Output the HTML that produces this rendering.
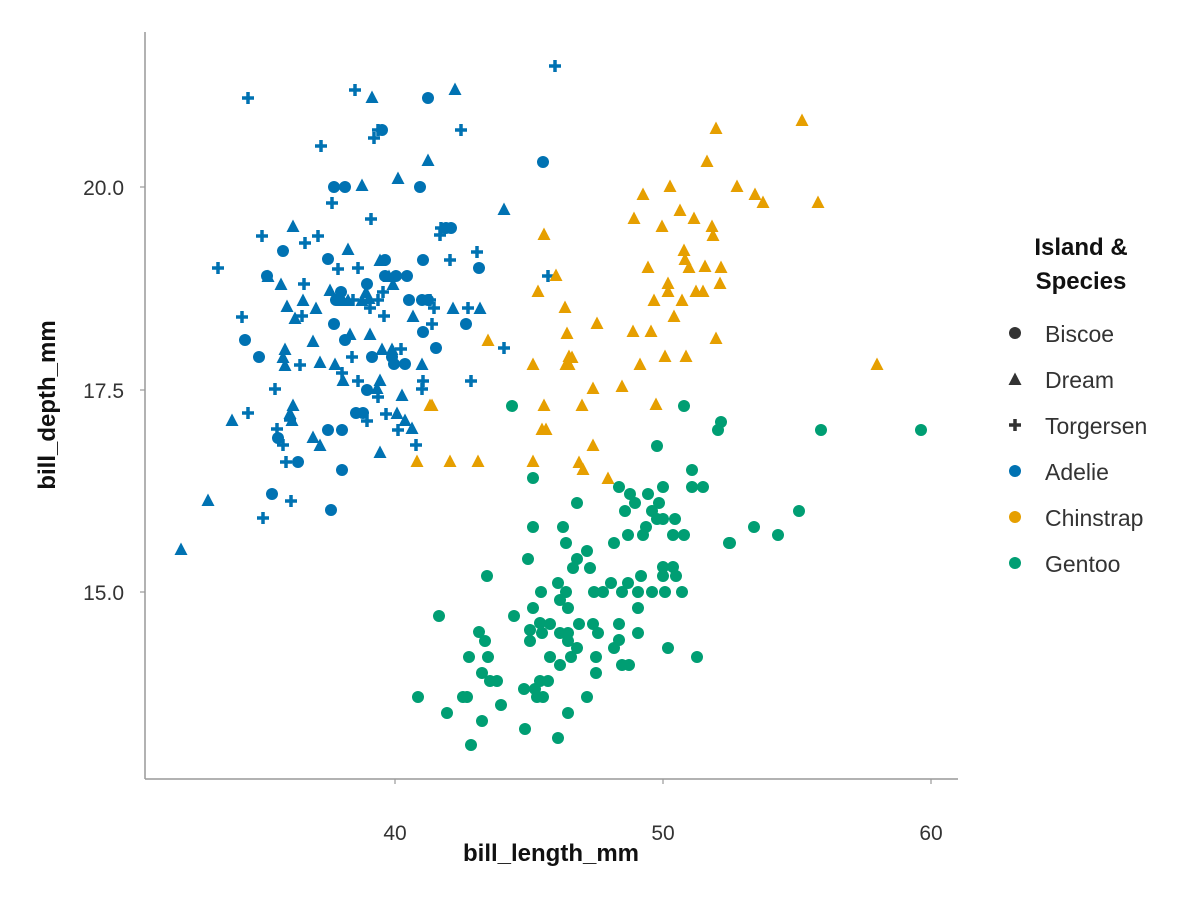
<!DOCTYPE html>
<html><head><meta charset="utf-8"><style>
html,body{margin:0;padding:0;background:#fff;}
svg{display:block;font-family:"Liberation Sans",sans-serif;}
</style></head><body>
<svg id="s" width="1200" height="900" xmlns="http://www.w3.org/2000/svg">
<rect width="1200" height="900" fill="#fff"/>
<line x1="145" y1="32" x2="145" y2="779" stroke="#999" stroke-width="1.5"/>
<line x1="145" y1="779" x2="958" y2="779" stroke="#999" stroke-width="1.5"/>
<g stroke="#999" stroke-width="1.2">
<line x1="395" y1="779" x2="395" y2="784"/><line x1="663" y1="779" x2="663" y2="784"/><line x1="931" y1="779" x2="931" y2="784"/>
<line x1="140" y1="187" x2="145" y2="187"/><line x1="140" y1="390" x2="145" y2="390"/><line x1="140" y1="592" x2="145" y2="592"/>
</g>
<g font-size="21" fill="#333">
<text x="395" y="840" text-anchor="middle">40</text>
<text x="663" y="840" text-anchor="middle">50</text>
<text x="931" y="840" text-anchor="middle">60</text>
<text x="124" y="195" text-anchor="end">20.0</text>
<text x="124" y="398" text-anchor="end">17.5</text>
<text x="124" y="600" text-anchor="end">15.0</text>
</g>
<text x="551" y="861" text-anchor="middle" font-size="24" font-weight="bold" fill="#111">bill_length_mm</text>
<text transform="translate(55,405) rotate(-90)" text-anchor="middle" font-size="24" font-weight="bold" fill="#111">bill_depth_mm</text>
<text x="1081" y="255" text-anchor="middle" font-size="24" font-weight="bold" fill="#111">Island &amp;</text>
<text x="1081" y="289" text-anchor="middle" font-size="24" font-weight="bold" fill="#111">Species</text>
<g font-size="23" fill="#333">
<text x="1045" y="342">Biscoe</text><text x="1045" y="388">Dream</text><text x="1045" y="434">Torgersen</text>
<text x="1045" y="480">Adelie</text><text x="1045" y="526">Chinstrap</text><text x="1045" y="572">Gentoo</text>
</g>
<g id="pts"></g>
</svg>
<script>
var g=document.getElementById('pts'),NS="http://www.w3.org/2000/svg";
function el(t,a){var e=document.createElementNS(NS,t);for(var k in a)e.setAttribute(k,a[k]);g.appendChild(e);}
function C(x,y,c){el('circle',{cx:x,cy:y,r:6,fill:c});}
function T(x,y,c){el('polygon',{points:(x-6.5)+','+(y+6)+' '+(x+6.5)+','+(y+6)+' '+x+','+(y-6.5),fill:c});}
function P(x,y,c){el('path',{d:'M'+(x-6)+' '+y+'H'+(x+6)+'M'+x+' '+(y-6)+'V'+(y+6),stroke:c,'stroke-width':3.5,fill:'none'});}
function run(f,arr,c){for(var i=0;i<arr.length;i+=2)f(arr[i],arr[i+1],c);}
var B='#0072b2',O='#e69f00',G='#009e73';
run(C,[428,98,382,130,543,162,334,187,345,187,420,187,446,228,451,228,283,251,267,276,328,259,385,276,396,276,407,276,423,260,479,268,367,284,336,300,338,300,409,300,341,292,245,340,259,357,334,324,345,340,466,324,436,348,392,357,372,357,394,364,405,364,367,390,356,413,363,413,342,430,328,430,278,438,298,462,342,470,272,494,331,510,385,260,428,300,423,332,422,300],B);
run(T,[372,97,455,89,428,160,398,178,362,185,504,209,293,226,348,249,268,276,281,284,330,290,389,276,343,300,366,292,348,300,369,298,303,300,393,284,453,308,480,308,287,306,295,318,316,308,285,349,313,341,283,357,285,365,320,362,350,334,370,334,382,349,392,349,413,316,380,380,343,380,402,395,412,428,405,420,397,413,293,405,290,413,292,420,232,420,313,437,320,445,380,452,208,500,181,549,380,260,362,300,422,364,377,388,335,364],B);
run(P,[555,66,248,98,355,90,378,130,374,138,461,130,321,146,332,203,371,219,262,236,305,243,318,236,218,268,338,269,358,268,450,260,477,252,304,284,383,292,242,317,302,316,432,324,384,316,434,308,468,308,504,348,352,357,401,349,300,365,275,389,248,413,358,381,378,397,386,414,367,421,398,430,416,445,423,381,422,389,471,381,286,462,291,501,263,518,283,445,277,429,290,420,548,276,342,373,353,300,370,308,378,300,430,300,440,235,441,228],B);
run(T,[716,128,802,120,707,161,643,194,670,186,737,186,634,218,662,226,694,218,712,226,755,194,763,202,818,202,680,210,544,234,684,250,713,235,648,267,685,259,689,267,705,266,721,267,556,275,668,283,668,291,696,291,703,291,720,283,538,291,654,300,682,300,565,307,633,331,651,331,674,316,716,338,665,356,686,356,597,323,567,333,488,340,533,364,569,356,572,357,569,364,566,364,877,364,593,388,622,386,430,405,432,405,544,405,582,405,593,445,608,478,542,429,546,429,579,462,583,469,533,461,417,461,450,461,478,461,640,364,656,404],O);
run(C,[512,406,684,406,721,422,718,430,657,446,692,470,533,478,619,487,663,487,692,487,703,487,630,494,648,494,577,503,635,503,659,503,625,511,652,511,657,519,663,519,675,519,533,527,563,527,646,527,628,535,643,535,673,535,684,535,566,543,614,543,729,543,587,551,577,559,528,559,573,568,590,568,663,567,673,567,487,576,641,576,663,576,676,576,558,583,611,583,628,583,541,592,566,592,594,592,603,592,622,592,638,592,652,592,665,592,682,592,560,600,533,608,568,608,638,608,439,616,514,616,530,630,540,623,550,624,542,633,560,633,568,633,579,624,593,624,598,633,619,624,638,633,479,632,485,641,530,641,568,641,577,648,619,640,614,648,668,648,697,657,469,657,488,657,550,657,571,657,596,657,560,665,622,665,629,665,482,673,596,673,490,681,497,681,540,681,548,681,524,689,535,689,537,697,543,697,418,697,463,697,467,697,587,697,501,705,447,713,568,713,482,721,525,729,558,738,471,745,799,511,778,535,754,527,730,543,821,430,921,430],G);
var D='#333';C(1015,333,D);T(1015,379,D);P(1015,425,D);C(1015,471,B);C(1015,517,O);C(1015,563,G);
</script>
</body></html>
